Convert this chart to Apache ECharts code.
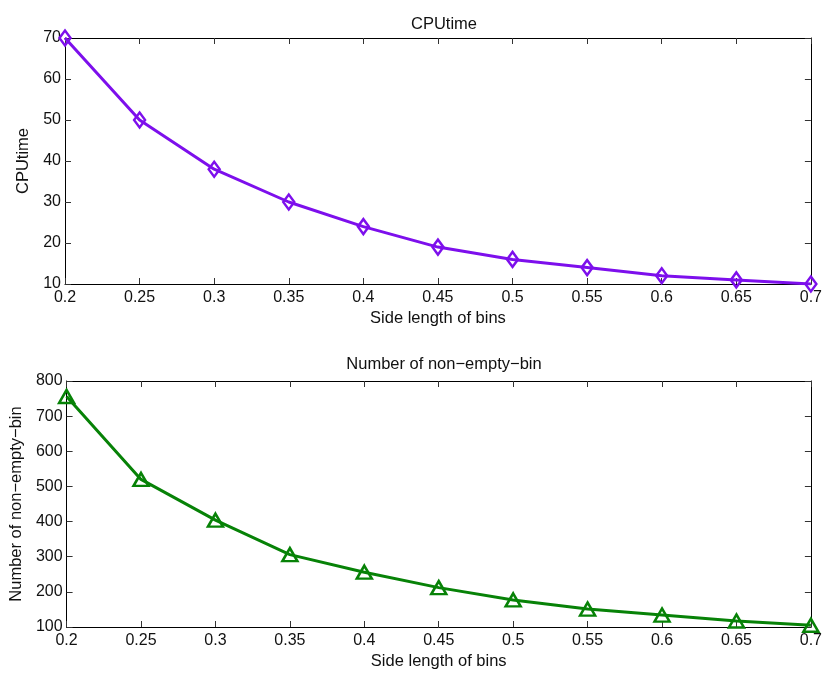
<!DOCTYPE html>
<html>
<head>
<meta charset="utf-8">
<script src="https://cdn.jsdelivr.net/npm/echarts@6/dist/echarts.min.js"></script>
<style>html,body{margin:0;padding:0;background:#fff}#c{width:825px;height:673px}</style>
</head>
<body>
<div id="c"></div>
<script>
const sideLengths = [0.2, 0.25, 0.3, 0.35, 0.4, 0.45, 0.5, 0.55, 0.6, 0.65, 0.7];
const cpuTime = [70, 50, 38, 30, 24, 19, 16, 14, 12, 11, 10];
const nonEmptyBins = [756, 520, 404, 306, 256, 212, 177, 151, 134, 117, 105];
const titles = ['CPUtime', 'Number of non\u2212empty\u2212bin'];
const yNames = ['CPUtime', 'Number of non\u2212empty\u2212bin'];
const xName = 'Side length of bins';

const purple = '#7d0fec';
const green = '#078207';
const font = 'Liberation Sans, Arial, sans-serif';
const chart = echarts.init(document.getElementById('c'));

function pairs(ys) { return sideLengths.map((x, i) => [x, ys[i]]); }

const axisLine = { show: true, lineStyle: { color: '#000', width: 1 } };
const tick = { show: true, inside: true, length: 6, lineStyle: { color: '#333' } };
const lbl = { color: '#111', fontSize: 16, fontFamily: font };
const nameStyle = { color: '#111', fontSize: 16.5, fontFamily: font };

function xAxes(gi) {
  return [
    { gridIndex: gi, type: 'value', min: 0.2, max: 0.7, interval: 0.05, position: 'bottom',
      axisLine, axisTick: tick, splitLine: { show: false },
      axisLabel: Object.assign({ margin: 6 }, lbl),
      name: xName, nameLocation: 'middle', nameGap: 26, nameTextStyle: nameStyle },
    { gridIndex: gi, type: 'value', min: 0.2, max: 0.7, interval: 0.05, position: 'top',
      axisLine, axisTick: tick, splitLine: { show: false }, axisLabel: { show: false } }
  ];
}
function yAxes(gi, min, max, interval, gap) {
  return [
    { gridIndex: gi, type: 'value', min, max, interval, position: 'left',
      axisLine, axisTick: tick, splitLine: { show: false },
      axisLabel: Object.assign({ margin: 4 }, lbl),
      name: yNames[gi], nameLocation: 'middle', nameGap: gap, nameTextStyle: nameStyle },
    { gridIndex: gi, type: 'value', min, max, interval, position: 'right',
      axisLine, axisTick: tick, splitLine: { show: false }, axisLabel: { show: false } }
  ];
}

chart.setOption({
  animation: false,
  backgroundColor: '#fff',
  title: [
    { text: titles[0], left: 439, top: 11, textAlign: 'center',
      textStyle: { fontSize: 16.5, fontWeight: 'normal', color: '#111', fontFamily: font } },
    { text: titles[1], left: 439, top: 351, textAlign: 'center',
      textStyle: { fontSize: 16.5, fontWeight: 'normal', color: '#111', fontFamily: font } }
  ],
  grid: [
    { left: 65, right: 12, top: 38, height: 246 },
    { left: 65, right: 12, top: 381, height: 246 }
  ],
  xAxis: [...xAxes(0), ...xAxes(1)],
  yAxis: [...yAxes(0, 10, 70, 10, 29), ...yAxes(1, 100, 800, 100, 39)],
  series: [
    { type: 'line', xAxisIndex: 0, yAxisIndex: 0, data: pairs(cpuTime),
      symbol: 'diamond', symbolSize: [11, 15], showAllSymbol: true,
      lineStyle: { color: purple, width: 3 },
      itemStyle: { color: 'rgba(255,255,255,0)', borderColor: purple, borderWidth: 2.5 } },
    { type: 'line', xAxisIndex: 2, yAxisIndex: 2, data: pairs(nonEmptyBins),
      symbol: 'triangle', symbolSize: [15, 13], showAllSymbol: true,
      lineStyle: { color: green, width: 3 },
      itemStyle: { color: 'rgba(255,255,255,0)', borderColor: green, borderWidth: 2.5 } }
  ]
});
</script>
</body>
</html>
